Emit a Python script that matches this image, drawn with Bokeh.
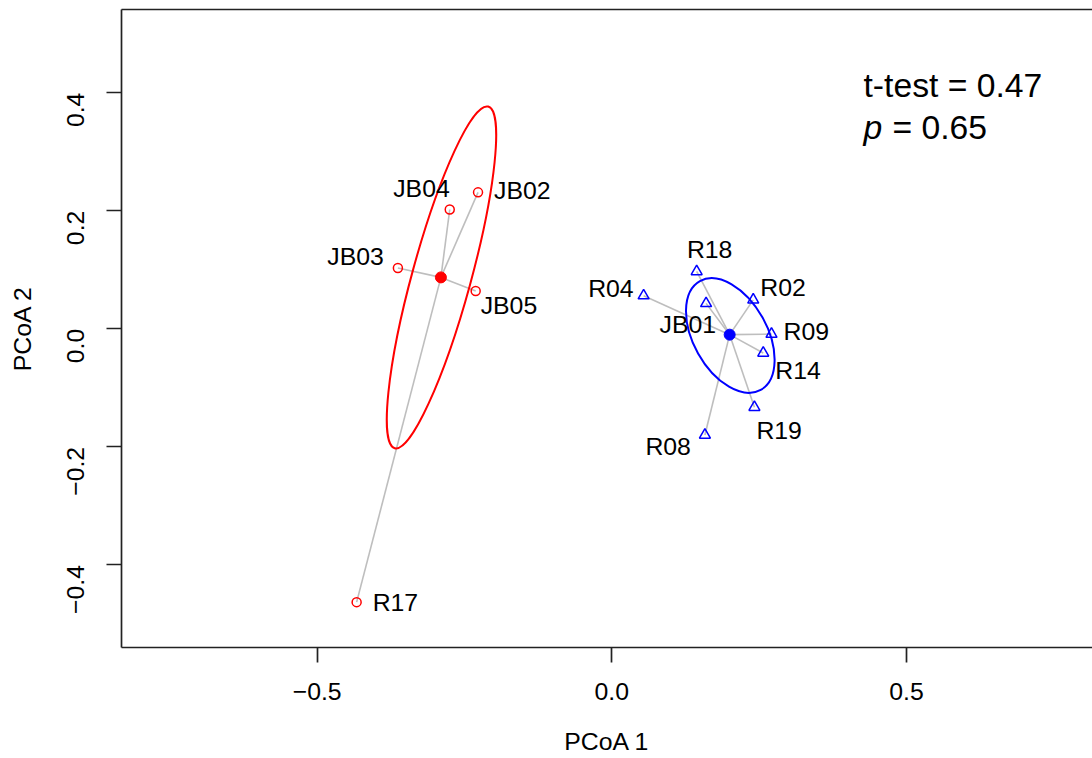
import math
from bokeh.plotting import figure
from bokeh.models import (FixedTicker, LinearAxis, Range1d, Label,
                          CustomJSTickFormatter, ColumnDataSource)
from bokeh.core.properties import value
from bokeh.embed import file_html
from bokeh.resources import INLINE

# ---------------- data ----------------
red_names = ["JB02", "JB04", "JB03", "JB05", "R17"]
red_x = [-0.227, -0.275, -0.363, -0.231, -0.433]
red_y = [0.231, 0.202, 0.103, 0.064, -0.463]
red_cx, red_cy = -0.290, 0.087

blue_names = ["R18", "R04", "JB01", "R02", "R09", "R14", "R19", "R08"]
blue_x = [0.144, 0.054, 0.160, 0.240, 0.271, 0.257, 0.242, 0.158]
blue_y = [0.097, 0.056, 0.043, 0.049, -0.009, -0.041, -0.133, -0.180]
blue_cx, blue_cy = 0.200, -0.010

# dispersion ellipses: centre, full axis lengths, angle (degrees)
red_ell = dict(x=-0.289, y=0.087, w=0.601, h=0.0997, angle=74.7)
blue_ell = dict(x=0.2011, y=-0.0114, w=0.2117, h=0.125, angle=-60.85)

x_ticks = [-0.5, 0.0, 0.5]
y_ticks = [-0.4, -0.2, 0.0, 0.2, 0.4]

stat_line1 = "t-test = 0.47"
stat_p = "p"
stat_line2 = "= 0.65"

# label placement (style): align, dx, dy (pixels)
red_lab_align = ["left", "right", "right", "left", "left"]
red_lab_dx = [16, 0, -14, 5, 16]
red_lab_dy = [-2, -21, -11, 14.5, 0]
blue_lab_align = ["center", "right", "right", "left", "left", "left", "left", "right"]
blue_lab_dx = [13, -10, 10, 7, 12, 12, 2, -14]
blue_lab_dy = [-22, -7.5, 21.5, -12.5, -2.5, 17.5, 23, 11]

FONT = "Liberation Sans"
FS = "24.8px"
RED = "#FF0000"
BLUE = "#0000FF"
GRAY = "#BEBEBE"
AX = "#222222"

p = figure(frame_width=971, frame_height=638,
           min_border_left=121, min_border_right=0,
           min_border_top=9, min_border_bottom=111,
           x_range=Range1d(-0.832, 0.8157), y_range=Range1d(-0.5398, 0.5407),
           output_backend="svg", toolbar_location=None,
           x_axis_location=None, y_axis_location=None)
p.grid.visible = False
p.outline_line_color = None
p.background_fill_color = "white"
p.border_fill_color = "white"

fmt = CustomJSTickFormatter(code="return tick.toFixed(1).replace('-', '\\u2212');")

def style_axis(ax):
    ax.axis_line_color = AX
    ax.axis_line_width = 1.7
    ax.major_tick_line_color = AX
    ax.major_tick_line_width = 1.7
    ax.major_tick_out = 15
    ax.major_tick_in = 0
    ax.minor_tick_line_color = None
    ax.major_label_text_font = FONT
    ax.major_label_text_font_size = FS
    ax.major_label_text_color = "black"
    ax.axis_label_text_font = FONT
    ax.axis_label_text_font_size = FS
    ax.axis_label_text_font_style = "normal"
    ax.axis_label_text_color = "black"

xa = LinearAxis(ticker=FixedTicker(ticks=x_ticks), formatter=fmt, axis_label="PCoA 1")
style_axis(xa)
xa.major_label_standoff = 20
xa.axis_label_standoff = 25
p.add_layout(xa, "below")

ya = LinearAxis(ticker=FixedTicker(ticks=y_ticks), formatter=fmt, axis_label="PCoA 2")
style_axis(ya)
ya.major_label_orientation = math.pi / 2
ya.major_label_standoff = 31
ya.axis_label_standoff = 20
p.add_layout(ya, "left")

top = LinearAxis(ticker=FixedTicker(ticks=[]))
top.axis_line_color = AX
top.axis_line_width = 1.7
top.major_tick_out = 0
top.major_tick_in = 0
top.minor_tick_line_color = None
top.major_label_standoff = 0
top.major_label_text_font_size = "0px"
p.add_layout(top, "above")

# spider segments
p.segment(x0=[red_cx] * len(red_x), y0=[red_cy] * len(red_y), x1=red_x, y1=red_y,
          line_color=GRAY, line_width=1.6)
p.segment(x0=[blue_cx] * len(blue_x), y0=[blue_cy] * len(blue_y), x1=blue_x, y1=blue_y,
          line_color=GRAY, line_width=1.6)

# ellipses
for e, c in ((red_ell, RED), (blue_ell, BLUE)):
    p.ellipse(x=[e["x"]], y=[e["y"]], width=[e["w"]], height=[e["h"]],
              angle=[math.radians(e["angle"])], fill_color=None,
              line_color=c, line_width=2)

# points
p.scatter(red_x, red_y, marker="circle", size=9, fill_color=None,
          line_color=RED, line_width=1.5)
p.scatter([red_cx], [red_cy], marker="circle", size=11, fill_color=RED, line_color=RED)
p.scatter(blue_x, blue_y, marker="triangle", size=11, fill_color=None,
          line_color=BLUE, line_width=1.5)
p.scatter([blue_cx], [blue_cy], marker="circle", size=11, fill_color=BLUE, line_color=BLUE)

# labels
def add_labels(xs, ys, names, aligns, dxs, dys):
    src = ColumnDataSource(dict(x=xs, y=ys, t=names, a=aligns, dx=dxs, dy=dys))
    p.text(x="x", y="y", text="t", source=src, text_align="a",
           x_offset="dx", y_offset="dy", text_baseline="alphabetic",
           text_font=value(FONT), text_font_size=FS, text_color="black")

add_labels(red_x, red_y, red_names, red_lab_align, red_lab_dx, red_lab_dy)
add_labels(blue_x, blue_y, blue_names, blue_lab_align, blue_lab_dx, blue_lab_dy)

# statistics annotation
p.add_layout(Label(x=0.4271, y=0.4132, text=stat_line1, text_font=FONT,
                   text_font_size="33.7px", text_baseline="middle", text_align="left",
                   text_color="black"))
p.add_layout(Label(x=0.4271, y=0.3424, text=stat_p, text_font=FONT,
                   text_font_size="33.7px", text_font_style="italic",
                   text_baseline="middle", text_align="left", text_color="black"))
p.add_layout(Label(x=0.4271, y=0.3424, x_offset=29, text=stat_line2, text_font=FONT,
                   text_font_size="33.7px", text_baseline="middle", text_align="left",
                   text_color="black"))

open("out.html", "w").write(file_html(p, INLINE))
